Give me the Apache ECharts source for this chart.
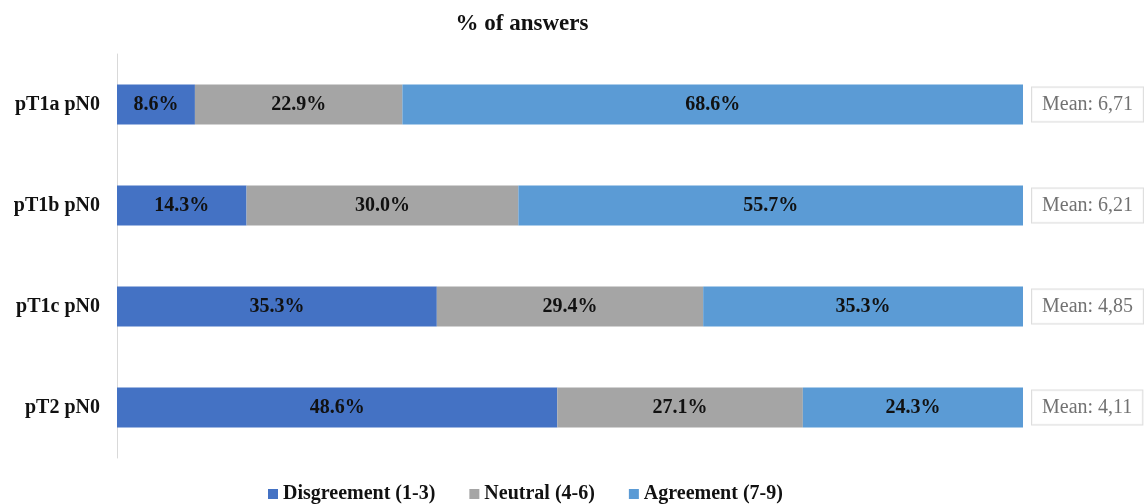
<!DOCTYPE html>
<html>
<head>
<meta charset="utf-8">
<script src="https://cdn.jsdelivr.net/npm/echarts@6/dist/echarts.min.js"></script>
<style>
  html, body { margin: 0; padding: 0; background: #fff; }
  #chart { width: 1144px; height: 504px; }
</style>
</head>
<body>
<div id="chart"></div>
<script>
// Stage groups (top to bottom)
const categories = ['pT1a pN0', 'pT1b pN0', 'pT1c pN0', 'pT2 pN0'];
// Share of answers per group, in percent
const disagreement = [8.6, 14.3, 35.3, 48.6];
const neutral = [22.9, 30.0, 29.4, 27.1];
const agreement = [68.6, 55.7, 35.3, 24.3];
// Mean score per group
const means = [6.71, 6.21, 4.85, 4.11];
const seriesNames = ['Disgreement (1-3)', 'Neutral (4-6)', 'Agreement (7-9)'];

const SERIF = '"Liberation Serif", "Times New Roman", serif';
const barLabel = {
  show: true,
  position: 'inside',
  formatter: p => p.value.toFixed(1) + '%',
  fontFamily: SERIF,
  fontWeight: 'bold',
  fontSize: 20,
  color: '#111'
};

function barSeries(name, data, color) {
  return {
    name: name,
    type: 'bar',
    stack: 'total',
    data: data,
    barWidth: 40,
    itemStyle: { color: color },
    label: barLabel,
    emphasis: { disabled: true }
  };
}

const chart = echarts.init(document.getElementById('chart'), null, { renderer: 'canvas' });
chart.setOption({
  animation: false,
  backgroundColor: '#fff',
  title: {
    text: '% of answers',
    left: 517,
    top: 8,
    textAlign: 'center',
    textStyle: { fontFamily: SERIF, fontWeight: 'bold', fontSize: 23, color: '#111' }
  },
  legend: {
    data: seriesNames,
    top: 479,
    left: 263,
    itemWidth: 10,
    itemHeight: 10,
    itemGap: 34,
    icon: 'rect',
    textStyle: { fontFamily: SERIF, fontWeight: 'bold', fontSize: 20, color: '#111' }
  },
  grid: { left: 117, top: 54, width: 906, height: 404, containLabel: false },
  xAxis: {
    type: 'value',
    min: 0,
    max: 100,
    show: false
  },
  yAxis: {
    type: 'category',
    data: categories,
    inverse: true,
    axisLine: { show: true, lineStyle: { color: '#d9d9d9', width: 1 } },
    axisTick: { show: false },
    axisLabel: {
      margin: 17,
      fontFamily: SERIF,
      fontWeight: 'bold',
      fontSize: 20,
      color: '#111'
    },
    splitLine: { show: false }
  },
  series: [
    barSeries(seriesNames[0], disagreement, '#4472C4'),
    barSeries(seriesNames[1], neutral, '#A5A5A5'),
    barSeries(seriesNames[2], agreement, '#5B9BD5'),
    {
      name: 'Mean',
      type: 'scatter',
      symbolSize: 0,
      silent: true,
      data: categories.map((c, i) => [100, c, means[i]]),
      label: {
        show: true,
        position: 'right',
        distance: 9,
        formatter: p => 'Mean: ' + p.value[2].toFixed(2).replace('.', ','),
        fontFamily: SERIF,
        fontSize: 20,
        color: '#4d4d4d',
        backgroundColor: '#fff',
        borderColor: '#d4d4d4',
        borderWidth: 1,
        padding: [8, 10, 6, 10]
      }
    }
  ]
});
</script>
</body>
</html>
